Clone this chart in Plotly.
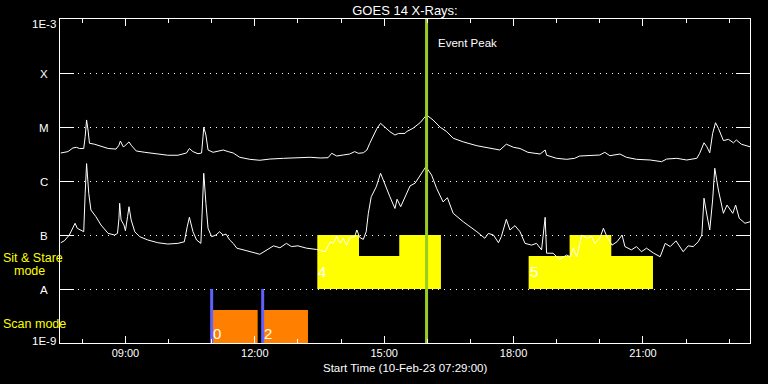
import math
import plotly.graph_objects as go

DAY = "2023-02-10"

# GOES 1-8 Angstrom (upper curve): (time, flux W/m^2)
xrs_long = [
    ("07:30", 3.3e-6), ("07:40", 3.5e-6), ("07:47", 4.1e-6), ("07:52", 4.2e-6), ("07:56", 4.0e-6),
    ("08:02", 4.0e-6), ("08:04", 6.6e-6), ("08:06", 1.35e-5), ("08:08", 8.8e-6), ("08:10", 5.0e-6),
    ("08:17", 4.8e-6), ("08:26", 4.4e-6), ("08:36", 4.0e-6), ("08:47", 3.9e-6), ("08:51", 4.6e-6),
    ("08:53", 5.5e-6), ("08:57", 4.3e-6), ("08:59", 4.45e-6), ("09:05", 5.3e-6), ("09:08", 4.6e-6),
    ("09:15", 3.6e-6), ("09:27", 3.4e-6), ("09:41", 3.2e-6), ("09:59", 3.0e-6), ("10:13", 3.0e-6),
    ("10:25", 3.3e-6), ("10:29", 4.0e-6), ("10:34", 3.5e-6), ("10:41", 3.2e-6), ("10:46", 3.3e-6),
    ("10:48", 6.6e-6), ("10:49", 9.9e-6), ("10:52", 7.1e-6), ("10:55", 3.75e-6), ("11:02", 3.4e-6),
    ("11:09", 3.6e-6), ("11:16", 3.75e-6), ("11:23", 3.5e-6), ("11:30", 3.3e-6), ("11:39", 2.75e-6),
    ("11:53", 2.52e-6), ("12:07", 2.42e-6), ("12:21", 2.55e-6), ("12:40", 2.63e-6), ("12:58", 2.67e-6),
    ("13:17", 2.75e-6), ("13:31", 2.67e-6), ("13:42", 2.7e-6), ("13:47", 3.26e-6), ("13:54", 2.9e-6),
    ("14:03", 3.03e-6), ("14:12", 3.16e-6), ("14:19", 3.5e-6), ("14:24", 3.26e-6), ("14:31", 3.33e-6),
    ("14:36", 3.75e-6), ("14:40", 5.0e-6), ("14:45", 6.8e-6), ("14:50", 9.45e-6), ("14:55", 1.17e-5),
    ("15:01", 9.9e-6), ("15:08", 8.2e-6), ("15:15", 7.1e-6), ("15:20", 7.6e-6), ("15:29", 7.6e-6),
    ("15:31", 8.2e-6), ("15:40", 9.45e-6), ("15:50", 1.2e-5), ("15:59", 1.67e-5), ("16:08", 1.35e-5),
    ("16:18", 9.9e-6), ("16:27", 8.2e-6), ("16:36", 6.2e-6), ("16:50", 5.3e-6), ("17:09", 4.5e-6),
    ("17:27", 4.0e-6), ("17:41", 3.75e-6), ("17:50", 4.8e-6), ("18:00", 4.2e-6), ("18:09", 4.0e-6),
    ("18:20", 3.4e-6), ("18:37", 3.16e-6), ("18:44", 3.75e-6), ("18:46", 3.0e-6), ("19:00", 2.63e-6),
    ("19:14", 2.52e-6), ("19:25", 2.63e-6), ("19:32", 2.9e-6), ("19:46", 2.94e-6), ("20:00", 3.03e-6),
    ("20:07", 3.4e-6), ("20:14", 2.94e-6), ("20:28", 3.16e-6), ("20:37", 2.75e-6), ("20:51", 2.52e-6),
    ("21:10", 2.45e-6), ("21:26", 2.28e-6), ("21:33", 2.55e-6), ("21:47", 2.63e-6), ("22:01", 2.45e-6),
    ("22:15", 2.63e-6), ("22:19", 3.26e-6), ("22:25", 5.1e-6), ("22:29", 4.3e-6), ("22:33", 3.33e-6),
    ("22:37", 7.6e-6), ("22:41", 1.2e-5), ("22:45", 9.45e-6), ("22:52", 5.6e-6), ("22:59", 5.9e-6),
    ("23:06", 5.1e-6), ("23:10", 5.75e-6), ("23:17", 4.8e-6), ("23:29", 4.3e-6),
]

# GOES 0.5-4 Angstrom (lower curve): (time, flux W/m^2)
xrs_short = [
    ("07:30", 7.2e-8), ("07:35", 7.8e-8), ("07:42", 1.0e-7), ("07:47", 1.42e-7), ("07:50", 1.65e-7),
    ("07:53", 1.33e-7), ("07:59", 1.2e-7), ("08:02", 1.15e-7), ("08:04", 5.9e-7), ("08:06", 2.1e-6),
    ("08:09", 5.9e-7), ("08:12", 2.9e-7), ("08:19", 2.18e-7), ("08:26", 1.53e-7), ("08:36", 1.07e-7),
    ("08:45", 1.0e-7), ("08:49", 1.07e-7), ("08:51", 2.0e-7), ("08:52", 3.86e-7), ("08:54", 1.9e-7),
    ("08:58", 1.53e-7), ("09:00", 1.2e-7), ("09:03", 2.18e-7), ("09:05", 3.34e-7), ("09:08", 1.9e-7),
    ("09:13", 1.15e-7), ("09:20", 9.3e-8), ("09:31", 8.1e-8), ("09:45", 7.2e-8), ("09:59", 6.8e-8),
    ("10:13", 7.0e-8), ("10:22", 7.5e-8), ("10:26", 1.42e-7), ("10:29", 2.13e-7), ("10:34", 1.15e-7),
    ("10:39", 8.1e-8), ("10:45", 7.0e-8), ("10:47", 2.9e-7), ("10:49", 1.39e-6), ("10:52", 3.86e-7),
    ("10:55", 1.33e-7), ("11:00", 9.3e-8), ("11:06", 1.0e-7), ("11:11", 1.15e-7), ("11:16", 1.0e-7),
    ("11:20", 1.04e-7), ("11:25", 8.1e-8), ("11:30", 7.0e-8), ("11:35", 5.7e-8), ("11:49", 5.1e-8),
    ("12:00", 4.6e-8), ("12:07", 4.4e-8), ("12:17", 5.3e-8), ("12:26", 6.3e-8), ("12:35", 5.8e-8),
    ("12:44", 7.0e-8), ("12:51", 6.1e-8), ("13:00", 6.3e-8), ("13:12", 5.7e-8), ("13:26", 5.4e-8),
    ("13:38", 4.9e-8), ("13:45", 7.5e-8), ("13:49", 7.0e-8), ("13:54", 9.3e-8), ("13:59", 7.0e-8),
    ("14:03", 8.7e-8), ("14:08", 6.5e-8), ("14:12", 8.7e-8), ("14:19", 9.3e-8), ("14:22", 1.24e-7),
    ("14:26", 9.0e-8), ("14:31", 8.3e-8), ("14:35", 1.15e-7), ("14:38", 2.52e-7), ("14:42", 5.1e-7),
    ("14:49", 7.8e-7), ("14:55", 1.39e-6), ("15:01", 8.4e-7), ("15:08", 5.1e-7), ("15:15", 3.1e-7),
    ("15:18", 4.6e-7), ("15:23", 3.34e-7), ("15:29", 5.1e-7), ("15:36", 8.1e-7), ("15:43", 9.1e-7),
    ("15:50", 1.29e-6), ("15:58", 1.84e-6), ("16:06", 1.29e-6), ("16:13", 7.3e-7), ("16:22", 4.1e-7),
    ("16:28", 4.9e-7), ("16:36", 2.52e-7), ("16:50", 1.76e-7), ("17:09", 1.15e-7), ("17:20", 8.7e-8),
    ("17:25", 1.07e-7), ("17:32", 1.0e-7), ("17:39", 7.2e-8), ("17:43", 9.3e-8), ("17:50", 1.95e-7),
    ("17:55", 1.24e-7), ("18:02", 1.49e-7), ("18:09", 1.15e-7), ("18:16", 7.0e-8), ("18:25", 6.5e-8),
    ("18:32", 7.0e-8), ("18:39", 5.3e-8), ("18:44", 2.13e-7), ("18:46", 4.6e-8), ("18:55", 4.6e-8),
    ("19:04", 3.55e-8), ("19:14", 4.26e-8), ("19:19", 3.96e-8), ("19:23", 5.7e-8), ("19:28", 3.96e-8),
    ("19:35", 1.0e-7), ("19:42", 8.7e-8), ("19:49", 9.3e-8), ("19:53", 7.0e-8), ("20:00", 8.7e-8),
    ("20:05", 1.33e-7), ("20:10", 9.3e-8), ("20:17", 6.5e-8), ("20:24", 7.5e-8), ("20:31", 1.0e-7),
    ("20:35", 6.1e-8), ("20:44", 5.3e-8), ("20:51", 6.1e-8), ("20:58", 4.9e-8), ("21:05", 5.7e-8),
    ("21:15", 4.6e-8), ("21:24", 3.96e-8), ("21:31", 7.0e-8), ("21:38", 6.1e-8), ("21:46", 7.8e-8),
    ("21:56", 4.9e-8), ("22:03", 6.3e-8), ("22:10", 6.1e-8), ("22:17", 7.5e-8), ("22:22", 1.0e-7),
    ("22:25", 4.8e-7), ("22:29", 2.35e-7), ("22:33", 1.24e-7), ("22:37", 4.45e-7), ("22:40", 1.72e-6),
    ("22:45", 6.8e-7), ("22:52", 2.52e-7), ("22:57", 3.59e-7), ("23:05", 2.52e-7), ("23:09", 3.59e-7),
    ("23:14", 2.04e-7), ("23:22", 1.65e-7), ("23:29", 1.76e-7),
]

# Sit & Stare observation segments
sit_stare_start = ["13:27", "14:25", "15:21", "18:21", "19:18", "20:16"]
sit_stare_end = ["14:25", "15:21", "16:19", "19:18", "20:16", "21:14"]
sit_stare_top = [1e-7, 4.1e-8, 1e-7, 4.1e-8, 1e-7, 4.1e-8]
sit_stare_floor = 1e-8

# Scan mode observation segments
scan_start = ["11:00", "12:11"]
scan_end = ["12:04", "13:14"]
scan_top = 4.1e-9
scan_floor = 1e-9
scan_marker_times = ["11:00", "12:11"]
scan_marker_top = 1e-8

# Observation number labels
obs_labels = ["0", "2", "4", "5"]
obs_label_times = ["11:00", "12:11", "13:27", "18:21"]
obs_label_flux = [1.53e-9, 1.53e-9, 2.07e-8, 2.07e-8]

event_peak_time = "15:59"

# Y axis (GOES class) ticks
class_vals = [1e-3, 1e-4, 1e-5, 1e-6, 1e-7, 1e-8, 1e-9]
class_text = ["1E-3", "X", "M", "C", "B", "A", "1E-9"]

x_start, x_end = "07:29", "23:29"

# plot-area geometry (pixels) used to place paper-referenced labels
PL, PR, PT, PB = 60, 750, 19, 343


def px_x(x):
    return (x - PL) / (PR - PL)


def px_y(y):
    return (PB - y) / (PB - PT)


def ts(hm):
    return f"{DAY} {hm}:00"


fig = go.Figure()


def boxes(starts, ends, tops, floor):
    xs, ys = [], []
    for s, e, t in zip(starts, ends, tops):
        xs += [ts(s), ts(s), ts(e), ts(e), ts(s), None]
        ys += [floor, t, t, floor, floor, None]
    return xs, ys


bx, by = boxes(sit_stare_start, sit_stare_end, sit_stare_top, sit_stare_floor)
fig.add_trace(go.Scatter(x=bx, y=by, mode="lines", fill="toself", fillcolor="#ffff00",
                         line=dict(width=0, color="#ffff00"), hoverinfo="skip"))

sx, sy = boxes(scan_start, scan_end, [scan_top] * len(scan_start), scan_floor)
fig.add_trace(go.Scatter(x=sx, y=sy, mode="lines", fill="toself", fillcolor="#ff8000",
                         line=dict(width=0, color="#ff8000"), hoverinfo="skip"))

mx, my = [], []
for t in scan_marker_times:
    mx += [ts(t), ts(t), None]
    my += [scan_floor, scan_marker_top, None]
fig.add_trace(go.Scatter(x=mx, y=my, mode="lines", line=dict(width=3, color="#6060ff"),
                         hoverinfo="skip"))

for series in (xrs_long, xrs_short):
    fig.add_trace(go.Scatter(x=[ts(t) for t, _ in series], y=[v for _, v in series],
                             mode="lines", line=dict(width=1, color="white"), hoverinfo="skip"))

fig.add_trace(go.Scatter(x=[ts(event_peak_time), ts(event_peak_time)], y=[1e-9, 1e-3],
                         mode="lines", line=dict(width=3, color="#99cc22"), hoverinfo="skip"))

FONT = "Liberation Sans, Arial, sans-serif"
annotations = []

# y class labels
for v, txt in zip(class_vals, class_text):
    shift = 0
    if txt == "1E-3":
        shift = -4
    elif txt == "1E-9":
        shift = 3
    annotations.append(dict(x=px_x(44), xref="paper", y=math.log10(v), yref="y", text=txt,
                            showarrow=False, xanchor="center", yanchor="middle", yshift=shift - 1,
                            font=dict(family=FONT, size=11.5, color="white")))

# mode labels
annotations.append(dict(x=px_x(1), xref="paper", y=px_y(258), yref="paper", text="Sit & Stare",
                        showarrow=False, xanchor="left", yanchor="middle",
                        font=dict(family=FONT, size=12.5, color="#ffff00")))
annotations.append(dict(x=px_x(12), xref="paper", y=px_y(271), yref="paper", text="mode",
                        showarrow=False, xanchor="left", yanchor="middle",
                        font=dict(family=FONT, size=12.5, color="#ffff00")))
annotations.append(dict(x=px_x(1), xref="paper", y=px_y(324), yref="paper", text="Scan mode",
                        showarrow=False, xanchor="left", yanchor="middle",
                        font=dict(family=FONT, size=12.5, color="#ffff00")))

# observation numbers
for lab, t, v in zip(obs_labels, obs_label_times, obs_label_flux):
    annotations.append(dict(x=ts(t), xref="x", y=math.log10(v), yref="y", text=lab,
                            showarrow=False, xanchor="left", yanchor="middle", xshift=-1,
                            font=dict(family=FONT, size=15, color="white")))

# event peak
annotations.append(dict(x=ts(event_peak_time), xref="x", y=-3.444, yref="y", text="Event Peak",
                        showarrow=False, xanchor="left", yanchor="middle", xshift=9,
                        font=dict(family=FONT, size=11.5, color="white")))

# x axis title
annotations.append(dict(x=px_x(405), xref="paper", y=px_y(368), yref="paper",
                        text="Start Time (10-Feb-23 07:29:00)", showarrow=False,
                        xanchor="center", yanchor="middle",
                        font=dict(family=FONT, size=11.5, color="white")))

fig.update_layout(
    width=768, height=384,
    margin=dict(l=PL, r=768 - PR, t=PT, b=384 - PB),
    paper_bgcolor="black", plot_bgcolor="black",
    showlegend=False, hovermode=False,
    title=dict(text="GOES 14 X-Rays:", x=405 / 768, xanchor="center", y=1 - 10 / 384,
               yanchor="middle", font=dict(family=FONT, size=13, color="white")),
    annotations=annotations,
    font=dict(family=FONT, color="white"),
)

fig.update_xaxes(
    type="date", range=[ts(x_start), ts(x_end)],
    tick0=ts("09:00"), dtick=3 * 3600000, tickformat="%H:%M",
    ticks="inside", ticklen=7, tickcolor="white", tickwidth=1,
    showline=True, linecolor="white", linewidth=1, mirror="ticks",
    showgrid=False, zeroline=False,
    tickfont=dict(family=FONT, size=11, color="white"),
    minor=dict(dtick=3600000, ticks="inside", ticklen=4, tickcolor="white", showgrid=False),
)

fig.update_yaxes(
    type="log", range=[-9, -3],
    tickvals=class_vals, showticklabels=False,
    ticks="inside", ticklen=14, tickcolor="white", tickwidth=1,
    showline=True, linecolor="white", linewidth=1, mirror="ticks",
    showgrid=True, gridcolor="white", gridwidth=1, griddash="1px,5px",
    zeroline=False,
)

fig.write_html(
    "out.html",
    config={"staticPlot": True},
    post_script="document.body.style.margin='0';document.body.style.overflow='hidden';"
                "document.body.style.background='black';",
)
